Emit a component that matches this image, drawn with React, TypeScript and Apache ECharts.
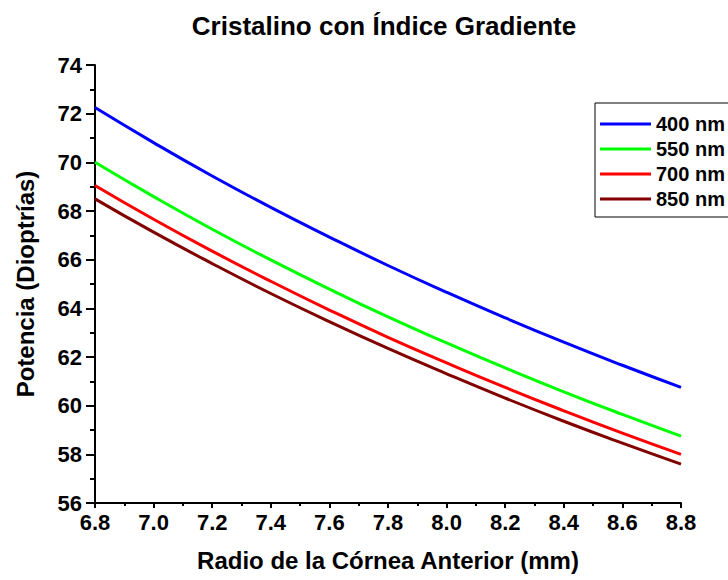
import React, { useEffect, useRef } from "react";
import * as echarts from "echarts";

const radii = [6.8, 7.0, 7.2, 7.4, 7.6, 7.8, 8.0, 8.2, 8.4, 8.6, 8.8];
const p400 = [72.25, 70.81, 69.44, 68.15, 66.93, 65.76, 64.66, 63.61, 62.61, 61.66, 60.75];
const p550 = [70.0, 68.59, 67.25, 65.99, 64.79, 63.65, 62.58, 61.55, 60.57, 59.64, 58.75];
const p700 = [69.05, 67.66, 66.35, 65.11, 63.93, 62.81, 61.76, 60.75, 59.79, 58.87, 58.0];
const p850 = [68.5, 67.13, 65.84, 64.61, 63.45, 62.35, 61.31, 60.31, 59.36, 58.46, 57.6];
const seriesNames = ["400 nm", "550 nm", "700 nm", "850 nm"];
const seriesColors = ["#0000ff", "#00ff00", "#ff0000", "#800000"];
const seriesValues = [p400, p550, p700, p850];

const FONT = "Liberation Sans, Arial, sans-serif";

export default function App() {
  const ref = useRef<HTMLDivElement>(null);
  useEffect(() => {
    if (!ref.current) return;
    const chart = echarts.init(ref.current, null, { renderer: "svg" });
    chart.setOption({
      animation: false,
      backgroundColor: "#ffffff",
      graphic: [
        {
          type: "text",
          x: 384,
          y: 26,
          style: {
            text: "Cristalino con Índice Gradiente",
            fontFamily: FONT,
            fontWeight: "bold",
            fontSize: 26,
            fill: "#000",
            textAlign: "center",
            textVerticalAlign: "middle",
          },
        },
      ],
      grid: { left: 95, right: 47, top: 65, bottom: 77, containLabel: false },
      legend: {
        left: 595,
        top: 103,
        orient: "vertical",
        icon: "rect",
        itemWidth: 51,
        itemHeight: 3,
        itemGap: 3,
        padding: [10, 12, 7, 5],
        borderColor: "#000",
        borderWidth: 1,
        backgroundColor: "#fff",
        textStyle: {
          fontFamily: FONT,
          fontWeight: "bold",
          fontSize: 20,
          color: "#000",
          lineHeight: 22,
        },
        data: seriesNames,
      },
      xAxis: {
        type: "value",
        min: 6.8,
        max: 8.8,
        interval: 0.2,
        name: "Radio de la Córnea Anterior (mm)",
        nameLocation: "middle",
        nameGap: 45,
        nameTextStyle: { fontFamily: FONT, fontWeight: "bold", fontSize: 24, color: "#000" },
        axisLine: { show: true, onZero: false, lineStyle: { color: "#000", width: 2 } },
        axisTick: { show: true, inside: false, length: 5, lineStyle: { color: "#000", width: 2 } },
        minorTick: { show: true, splitNumber: 2, length: 3, lineStyle: { color: "#000", width: 2 } },
        axisLabel: {
          fontFamily: FONT,
          fontWeight: "bold",
          fontSize: 22,
          color: "#000",
          margin: 8,
          formatter: (v: number) => v.toFixed(1),
        },
        splitLine: { show: false },
      },
      yAxis: {
        type: "value",
        min: 56,
        max: 74,
        interval: 2,
        name: "Potencia (Dioptrías)",
        nameLocation: "middle",
        nameGap: 58,
        nameTextStyle: { fontFamily: FONT, fontWeight: "bold", fontSize: 24, color: "#000" },
        axisLine: { show: true, onZero: false, lineStyle: { color: "#000", width: 2 } },
        axisTick: { show: true, inside: false, length: 9, lineStyle: { color: "#000", width: 2 } },
        minorTick: { show: true, splitNumber: 2, length: 5, lineStyle: { color: "#000", width: 2 } },
        axisLabel: {
          fontFamily: FONT,
          fontWeight: "bold",
          fontSize: 22,
          color: "#000",
          margin: 13,
        },
        splitLine: { show: false },
      },
      series: seriesNames.map((name, i) => ({
        name,
        type: "line",
        smooth: true,
        showSymbol: false,
        symbol: "none",
        color: seriesColors[i],
        lineStyle: { color: seriesColors[i], width: 3 },
        data: radii.map((r, j) => [r, seriesValues[i][j]]),
      })),
    });
    return () => chart.dispose();
  }, []);
  return <div ref={ref} style={{ width: 728, height: 580, position: "absolute", left: 0, top: 0 }} />;
}
